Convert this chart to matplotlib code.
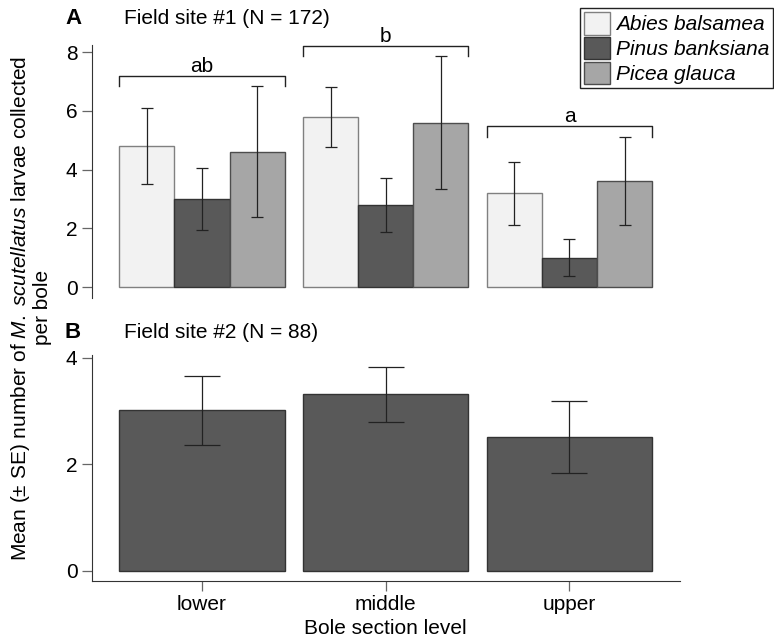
import numpy as np
import matplotlib
matplotlib.use("Agg")
import matplotlib.pyplot as plt

plt.rcParams['font.family'] = ['Liberation Sans', 'DejaVu Sans']
plt.rcParams['mathtext.fontset'] = 'custom'
plt.rcParams['mathtext.rm'] = 'Liberation Sans'
plt.rcParams['mathtext.it'] = 'Liberation Sans:italic'
plt.rcParams['font.size'] = 15

### Data ###
levels = ['lower', 'middle', 'upper']
species = ['Abies balsamea', 'Pinus banksiana', 'Picea glauca']

# Field site #1: means and SE by species
abies_mean = [4.8, 5.78, 3.2]
abies_se = [1.28, 1.02, 1.07]
pinus_mean = [3.0, 2.8, 1.0]
pinus_se = [1.05, 0.91, 0.63]
picea_mean = [4.6, 5.6, 3.6]
picea_se = [2.23, 2.25, 1.5]
letters = ['ab', 'b', 'a']

# Field site #2: pooled
site2_mean = [3.01, 3.31, 2.51]
site2_se = [0.645, 0.52, 0.67]

face_colors = ['#f2f2f2', '#595959', '#a6a6a6']
edge_colors = ['#808080', '#333333', '#4d4d4d']
spine_col = '#333333'

fig = plt.figure(figsize = (7.74, 6.4), dpi = 100)

ax_a = fig.add_axes([0.1185, 0.5344, 0.7597, 0.3953])
ax_b = fig.add_axes([0.1185, 0.0927, 0.7597, 0.3526])

x = np.arange(len(levels))
width = 0.3

means = [abies_mean, pinus_mean, picea_mean]
ses = [abies_se, pinus_se, picea_se]

for k in range(len(species)) :
    ax_a.bar(
        x + (k - 1) * width, means[k], width,
        color = face_colors[k], edgecolor = edge_colors[k], lw = 1,
        label = species[k], zorder = 2,
    )
    ax_a.errorbar(
        x + (k - 1) * width, means[k], yerr = ses[k],
        fmt = 'none', ecolor = '#222222', elinewidth = 0.9,
        capsize = 4.3, capthick = 0.9, zorder = 3,
    )

# Significance brackets
tops = np.max(np.array(means) + np.array(ses), axis = 0)
for i in range(len(levels)) :
    lo, hi = x[i] - 1.5 * width, x[i] + 1.5 * width
    base, top = tops[i], tops[i] + 0.37
    ax_a.plot([lo, lo, hi, hi], [base, top, top, base], color = '#222222', lw = 1, clip_on = False)
    ax_a.annotate(letters[i], (x[i], top), xytext = (0, 0), textcoords = 'offset points',
        ha = 'center', va = 'bottom', annotation_clip = False)

ax_a.set_xlim(-0.6, 2.6)
ax_a.set_ylim(-0.37, 8.24)
ax_a.set_yticks([0, 2, 4, 6, 8])
ax_a.set_xticks([])
for s in ['top', 'right', 'bottom'] :
    ax_a.spines[s].set_visible(False)

ax_b.bar(x, site2_mean, 0.9, color = '#595959', edgecolor = '#333333', lw = 1, zorder = 2)
ax_b.errorbar(
    x, site2_mean, yerr = site2_se, fmt = 'none', ecolor = '#222222',
    elinewidth = 0.9, capsize = 13, capthick = 0.9, zorder = 3,
)
ax_b.set_xlim(-0.6, 2.6)
ax_b.set_ylim(-0.19, 4.05)
ax_b.set_yticks([0, 2, 4])
ax_b.set_xticks(x)
ax_b.set_xticklabels(levels)
ax_b.set_xlabel('Bole section level', labelpad = 4)
for s in ['top', 'right'] :
    ax_b.spines[s].set_visible(False)

for ax in [ax_a, ax_b] :
    ax.spines['left'].set_color(spine_col)
    ax.spines['bottom'].set_color(spine_col)
    ax.tick_params(length = 7.2, width = 0.9, color = '#666666', pad = 3)

# Panel labels and titles
fig.text(73 / 774, 1 - 19 / 640, 'A', ha = 'center', va = 'center', fontweight = 'bold', fontsize = 16)
fig.text(124 / 774, 1 - 19 / 640, 'Field site #1 (N = 172)', ha = 'left', va = 'center')
fig.text(73 / 774, 1 - 332 / 640, 'B', ha = 'center', va = 'center', fontweight = 'bold', fontsize = 16)
fig.text(124 / 774, 1 - 332 / 640, 'Field site #2 (N = 88)', ha = 'left', va = 'center')

# Shared y label
fig.text(21 / 774, 1 - 308 / 640,
    r'Mean (± SE) number of $\mathit{M.\ scutellatus}$ larvae collected',
    rotation = 90, ha = 'center', va = 'center')
fig.text(42 / 774, 1 - 307 / 640, 'per bole', rotation = 90, ha = 'center', va = 'center')

leg = ax_a.legend(
    loc = 'upper left', bbox_to_anchor = (580 / 774, 1 - 8 / 640),
    bbox_transform = fig.transFigure,
    prop = {'style' : 'italic', 'size' : 15},
    handlelength = 1.25, handleheight = 1.3, labelspacing = 0.1,
    handletextpad = 0.29, borderpad = 0.19, borderaxespad = 0,
    fancybox = False, framealpha = 1, edgecolor = '#222222',
)
leg.get_frame().set_linewidth(1)

fig.savefig('out.png', dpi = 100)
